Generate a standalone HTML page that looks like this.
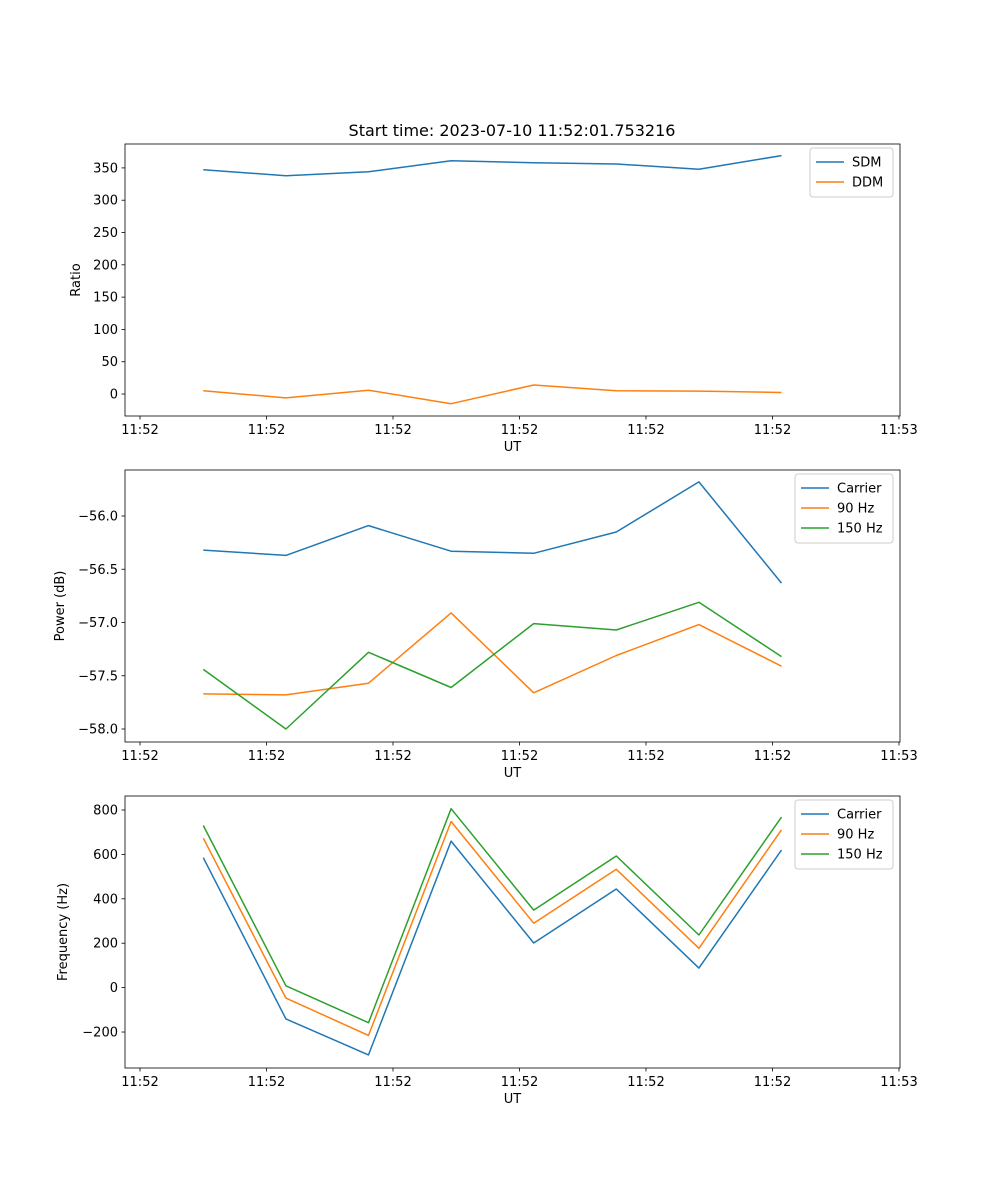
<!DOCTYPE html>
<html><head><meta charset="utf-8"><style>
body{margin:0;background:#fff}
svg{display:block;font-family:"DejaVu Sans","Liberation Sans",sans-serif}
</style></head><body>
<svg id="fig" width="1000" height="1200" viewBox="0 0 1000 1200"></svg>
<script>
// time in tick units (one tick interval = one unit)
const times = [0.5, 1.153, 1.806, 2.459, 3.112, 3.765, 4.418, 5.071];
const xTickValues = [0, 1, 2, 3, 4, 5, 6];
const xTickLabels = ["11:52","11:52","11:52","11:52","11:52","11:52","11:53"];

const sdm = [347, 338, 344, 361, 358, 356, 348, 369];
const ddm = [5, -6, 6, -15, 14, 5, 4.6, 2.3];
const ratioTicks = [0, 50, 100, 150, 200, 250, 300, 350];

const powerCarrier = [-56.32, -56.37, -56.09, -56.33, -56.35, -56.15, -55.68, -56.63];
const power90 = [-57.67, -57.68, -57.57, -56.91, -57.66, -57.31, -57.02, -57.41];
const power150 = [-57.44, -58.0, -57.28, -57.61, -57.01, -57.07, -56.81, -57.32];
const powerTicks = [-58.0, -57.5, -57.0, -56.5, -56.0];

const freqCarrier = [585, -141, -303, 660, 201, 444, 88, 620];
const freq90 = [673, -47, -215, 748, 290, 533, 177, 711];
const freq150 = [730, 8, -158, 806, 349, 593, 237, 768];
const freqTicks = [-200, 0, 200, 400, 600, 800];

const NS = "http://www.w3.org/2000/svg";
const svg = document.getElementById("fig");
function mk(tag, attrs, parent){const e=document.createElementNS(NS,tag);for(const k in attrs)e.setAttribute(k,attrs[k]);(parent||svg).appendChild(e);return e;}

const L=125,R=900,xmin=-0.1186,xmax=6.008;
const xs=v=>L+(v-xmin)/(xmax-xmin)*(R-L);
const C=["#1f77b4","#ff7f0e","#2ca02c"];

function panel(name, top, bottom, ymin, ymax, yticks, fmt, series, labels, ylabel, legend){
  const g=mk("g",{});
  
  
  const ys=v=>bottom-(v-ymin)/(ymax-ymin)*(bottom-top);
  series.forEach((s,i)=>{
    const d=s.map((v,j)=>(j?"L":"M")+xs(times[j]).toFixed(1)+","+ys(v).toFixed(1)).join("");
    const p=mk("path",{d:d,fill:"none",stroke:C[i],"stroke-width":1.5,"stroke-linejoin":"round"},g);
    
    
  });
  mk("rect",{x:L,y:top,width:R-L,height:bottom-top,fill:"none",stroke:"#000","stroke-width":0.8},g);
  xTickValues.forEach((v,i)=>{
    const x=xs(v);
    mk("line",{x1:x,x2:x,y1:bottom,y2:bottom+3.5,stroke:"#000","stroke-width":0.8},g);
    const t=mk("text",{x:x,y:bottom+18,"font-size":13,"text-anchor":"middle"},g);t.textContent=xTickLabels[i];
    
    
  });
  yticks.forEach(v=>{
    const y=ys(v);
    mk("line",{x1:L,x2:L-3.5,y1:y,y2:y,stroke:"#000","stroke-width":0.8},g);
    const t=mk("text",{x:L-7,y:y+4.5,"font-size":13,"text-anchor":"end"},g);t.textContent=fmt(v);
    
    
  });
  const xl=mk("text",{x:(L+R)/2,y:bottom+35,"font-size":13,"text-anchor":"middle"},g);xl.textContent="UT";
  
  
  const cy=(top+bottom)/2;
  const yl=mk("text",{x:0,y:0,"font-size":13,"text-anchor":"middle",transform:`translate(${legend.yx},${cy}) rotate(-90)`},g);yl.textContent=ylabel;
  
  
  const lg=mk("g",{},g);
  
  
  mk("rect",{x:legend.x,y:top+4,width:legend.w,height:labels.length*20+9,rx:3,fill:"#fff","fill-opacity":0.8,stroke:"#ccc"},lg);
  labels.forEach((lab,i)=>{
    const y=top+18+i*20;
    mk("line",{x1:legend.x+6,x2:legend.x+34,y1:y,y2:y,stroke:C[i],"stroke-width":1.5},lg);
    const t=mk("text",{x:legend.x+42,y:y+4.5,"font-size":13},lg);t.textContent=lab;
    
    
  });
}

const title=mk("text",{x:512,y:136,"font-size":16,"text-anchor":"middle"});
title.textContent="Start time: 2023-07-10 11:52:01.753216";



panel("ratio-panel",144,416,-34,387,ratioTicks,v=>String(v),[sdm,ddm],["SDM","DDM"],"Ratio",{x:810,w:83,yx:80});
panel("power-panel",470,742,-58.122,-55.568,powerTicks,v=>"\u2212"+Math.abs(v).toFixed(1),[powerCarrier,power90,power150],["Carrier","90 Hz","150 Hz"],"Power (dB)",{x:795,w:98,yx:64});
panel("frequency-panel",796,1068,-362,863,freqTicks,v=>v<0?"\u2212"+Math.abs(v):String(v),[freqCarrier,freq90,freq150],["Carrier","90 Hz","150 Hz"],"Frequency (Hz)",{x:795,w:98,yx:67});
</script>
</body></html>
